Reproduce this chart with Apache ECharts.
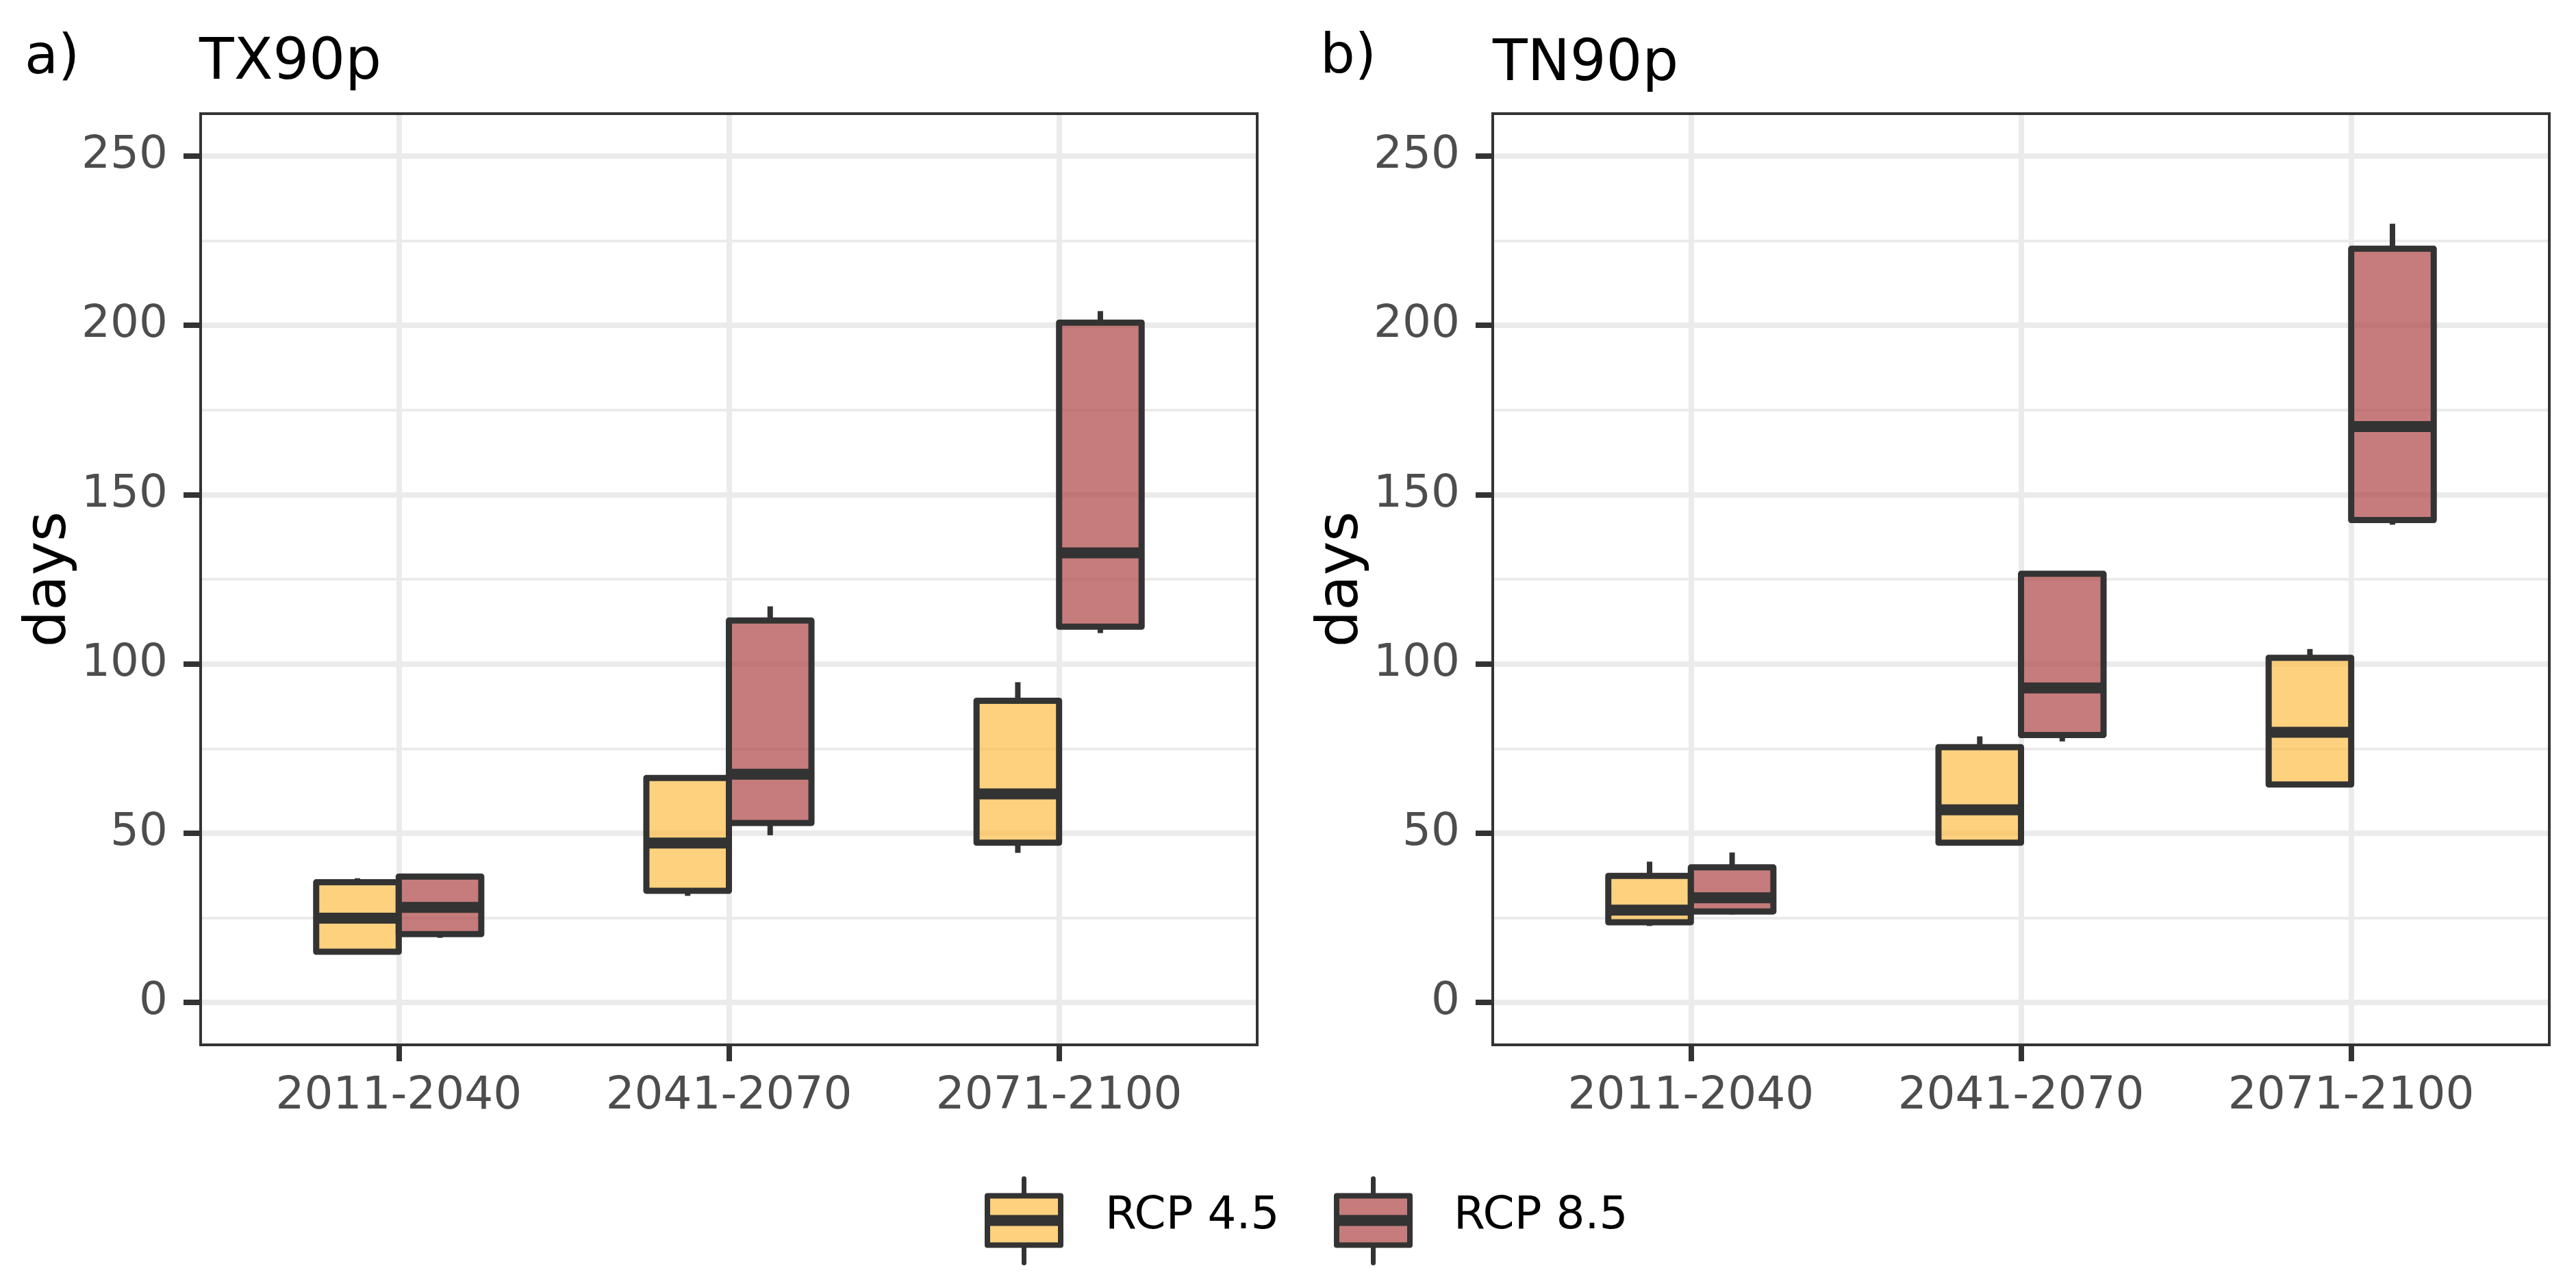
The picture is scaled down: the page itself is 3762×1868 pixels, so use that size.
<!DOCTYPE html>
<html>
<head>
<meta charset="utf-8">
<script src="https://cdn.jsdelivr.net/npm/echarts@6/dist/echarts.min.js"></script>
<style>
html,body{margin:0;padding:0;background:#fff;}
#chart{width:3762px;height:1868px;}
</style>
</head>
<body>
<div id="chart"></div>
<script>
// ---- data ----
const categories = ['2011-2040', '2041-2070', '2071-2100'];
const scenarios = ['RCP 4.5', 'RCP 8.5'];
const panelTags = ['a)', 'b)'];
const panelTitles = ['TX90p', 'TN90p'];
const yTitle = 'days';
const yTicks = [0, 50, 100, 150, 200, 250];
const yMinorTicks = [25, 75, 125, 175, 225];
// each row: [lower whisker, Q1, median, Q3, upper whisker]
const tx90pRcp45 = [[14.2, 15.0, 24.9, 35.5, 36.7], [31.5, 33.0, 47.1, 66.3, 66.5], [44.2, 47.2, 61.6, 89.1, 94.6]];
const tx90pRcp85 = [[19.1, 20.2, 28.1, 37.2, 37.6], [49.4, 53.0, 67.4, 112.8, 117.0], [109.1, 111.0, 132.8, 200.8, 204.2]];
const tn90pRcp45 = [[22.6, 23.7, 27.3, 37.4, 41.6], [47.2, 47.2, 56.9, 75.4, 78.6], [64.4, 64.4, 79.8, 101.8, 104.4]];
const tn90pRcp85 = [[26.0, 26.9, 30.9, 39.9, 44.3], [77.1, 79.0, 92.9, 126.6, 127.0], [141.1, 142.5, 170.1, 222.6, 230.0]];

// ---- style / layout ----
const FONT = 'DejaVu Sans';
const COLORS = ['rgba(252,189,71,0.7)', 'rgba(174,69,69,0.7)'];
const DARK = '#333333';
const BOX_W = 0.25;
const OFFSETS = [-0.125, 0.125];
const GRID_LEFTS = [293, 2180];
const GRID_TOP = 166, GRID_W = 1543, GRID_H = 1360;

function renderBox(offset, fill) {
  return function (params, api) {
    const x = api.value(0) + offset;
    const xl = api.coord([x - BOX_W / 2, 0])[0];
    const xr = api.coord([x + BOX_W / 2, 0])[0];
    const xc = api.coord([x, 0])[0];
    const yMin = api.coord([x, api.value(1)])[1];
    const yQ1 = api.coord([x, api.value(2)])[1];
    const yMed = api.coord([x, api.value(3)])[1];
    const yQ3 = api.coord([x, api.value(4)])[1];
    const yMax = api.coord([x, api.value(5)])[1];
    const lineStyle = { stroke: DARK, lineWidth: 8, lineCap: 'butt' };
    return {
      type: 'group',
      children: [
        { type: 'line', shape: { x1: xc, y1: yQ3, x2: xc, y2: yMax }, style: lineStyle },
        { type: 'line', shape: { x1: xc, y1: yQ1, x2: xc, y2: yMin }, style: lineStyle },
        { type: 'rect', shape: { x: xl, y: yQ3, width: xr - xl, height: yQ1 - yQ3 },
          style: { fill: fill, stroke: DARK, lineWidth: 9, lineJoin: 'round' } },
        { type: 'line', shape: { x1: xl, y1: yMed, x2: xr, y2: yMed },
          style: { stroke: DARK, lineWidth: 16, lineCap: 'butt' } }
      ]
    };
  };
}

const panelData = [[tx90pRcp45, tx90pRcp85], [tn90pRcp45, tn90pRcp85]];

const grids = [], xAxes = [], yAxes = [], series = [], graphics = [];
GRID_LEFTS.forEach(function (left, p) {
  grids.push({ left: left, top: GRID_TOP, width: GRID_W, height: GRID_H, show: true,
    backgroundColor: 'transparent', borderColor: DARK, borderWidth: 4, z: 5, outerBoundsMode: 'none' });
  xAxes.push({
    gridIndex: p, type: 'value', min: 0.4, max: 3.6, position: 'bottom',
    axisLine: { show: false, onZero: false },
    axisTick: { show: true, customValues: [1, 2, 3], length: 24, lineStyle: { color: DARK, width: 8 } },
    axisLabel: { customValues: [1, 2, 3], formatter: function (v) { return categories[Math.round(v) - 1]; },
      fontFamily: FONT, fontSize: 66, color: '#4D4D4D', margin: 43 },
    splitLine: { show: true, lineStyle: { color: '#EBEBEB', width: 8 } }
  });
  yAxes.push({
    gridIndex: p, type: 'value', min: -12.5, max: 262.5, position: 'left',
    name: yTitle, nameLocation: 'middle', nameGap: 174,
    nameTextStyle: { fontFamily: FONT, fontSize: 84, color: '#000' },
    axisLine: { show: false, onZero: false },
    axisTick: { show: true, customValues: yTicks, length: 25, lineStyle: { color: DARK, width: 8 } },
    axisLabel: { customValues: yTicks, fontFamily: FONT, fontSize: 66, color: '#4D4D4D', margin: 48 },
    splitLine: { show: true, lineStyle: { color: '#EBEBEB', width: 8 } }
  });
  yAxes.push({
    gridIndex: p, type: 'value', min: -12.5, max: 262.5, position: 'left',
    axisLine: { show: false, onZero: false },
    axisTick: { show: false, customValues: yMinorTicks },
    axisLabel: { show: false, customValues: yMinorTicks },
    splitLine: { show: true, lineStyle: { color: '#EBEBEB', width: 4 } }
  });
  panelData[p].forEach(function (vals, s) {
    series.push({
      type: 'custom', name: scenarios[s], xAxisIndex: p, yAxisIndex: p * 2,
      renderItem: renderBox(OFFSETS[s], COLORS[s]),
      encode: { x: 0, y: [1, 2, 3, 4, 5] },
      data: vals.map(function (v, i) { return [i + 1].concat(v); }),
      z: 2
    });
  });
});

// panel tags and titles
graphics.push({ type: 'text', left: 36, top: 46, style: { text: panelTags[0], font: '80px "' + FONT + '"', fill: '#000' } });
graphics.push({ type: 'text', left: 291, top: 52, style: { text: panelTitles[0], font: '83px "' + FONT + '"', fill: '#000' } });
graphics.push({ type: 'text', left: 1928, top: 45, style: { text: panelTags[1], font: '80px "' + FONT + '"', fill: '#000' } });
graphics.push({ type: 'text', left: 2180, top: 54, style: { text: panelTitles[1], font: '83px "' + FONT + '"', fill: '#000' } });

// legend
const legendKeyX = [1438, 1948];
const legendTextX = [1614, 2123];
scenarios.forEach(function (name, s) {
  const x0 = legendKeyX[s], w = 107, y0 = 1747, h = 72, xc = x0 + w / 2, ym = 1783;
  graphics.push({
    type: 'group', left: x0 - 4, top: 1718,
    children: [
      { type: 'line', shape: { x1: xc - x0 + 4, y1: 4, x2: xc - x0 + 4, y2: y0 - 1718 }, style: { stroke: DARK, lineWidth: 7, lineCap: 'round' } },
      { type: 'line', shape: { x1: xc - x0 + 4, y1: y0 + h - 1718, x2: xc - x0 + 4, y2: 1845 - 1718 }, style: { stroke: DARK, lineWidth: 7, lineCap: 'round' } },
      { type: 'rect', shape: { x: 4, y: y0 - 1718, width: w, height: h }, style: { fill: COLORS[s], stroke: DARK, lineWidth: 8, lineJoin: 'round' } },
      { type: 'line', shape: { x1: 4, y1: ym - 1718, x2: 4 + w, y2: ym - 1718 }, style: { stroke: DARK, lineWidth: 16 } }
    ]
  });
  graphics.push({ type: 'text', left: legendTextX[s], top: ym - 33 - 6,
    style: { text: name, font: '66px "' + FONT + '"', fill: '#000' } });
});

const chart = echarts.init(document.getElementById('chart'), null, { renderer: 'canvas' });
chart.setOption({
  backgroundColor: '#ffffff',
  animation: false,
  grid: grids,
  xAxis: xAxes,
  yAxis: yAxes,
  series: series,
  graphic: graphics
});
</script>
</body>
</html>
